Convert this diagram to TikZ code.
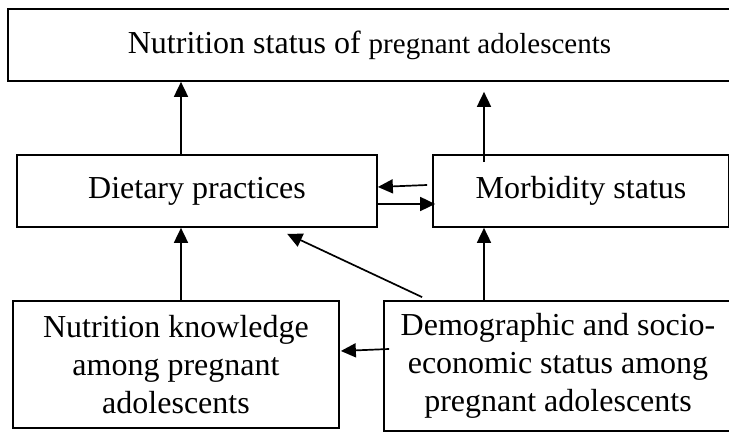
\documentclass[tikz,border=0pt]{standalone}
\usepackage{fontspec}
\setmainfont{Liberation Serif}
\usepackage{tikz}
\usetikzlibrary{arrows.meta, positioning, calc}

\begin{document}
\begin{tikzpicture}[
    x=0.5pt, y=-0.5pt,
    box/.style={draw, line width=0.85pt, inner sep=0pt,
                align=center, font=\fontsize{16}{19}\selectfont},
    arr/.style={-{Triangle[length=7.5pt, width=7pt]}, line width=0.85pt}
  ]
  \useasboundingbox (0,0) rectangle (729,432);
  \clip (0,0) rectangle (729,432);

  % outcome
  \node[box, minimum width=361.5pt, minimum height=36pt]
    (top) at (369.5, 45)
    {Nutrition status of {\fontsize{14.5}{17}\selectfont pregnant adolescents}};

  % middle row
  \node[box, minimum width=180pt, minimum height=36pt]
    (diet) at (197, 191) {Dietary practices};
  \node[box, minimum width=148pt, minimum height=36pt]
    (morb) at (581, 191) {Morbidity status};

  % bottom row
  \node[box, minimum width=163pt, minimum height=63.5pt]
    (know) at (176, 364.5)
    {Nutrition knowledge\\ among pregnant\\ adolescents};
  \node[box, minimum width=174pt, minimum height=65pt]
    (demo) at (558, 366)
    {Demographic and socio-\\ economic status among\\ pregnant adolescents};

  % arrow columns
  \coordinate (lcol) at (181, 0);
  \coordinate (rcol) at (484, 0);

  % links to outcome
  \draw[arr] (lcol |- diet.north) -- (lcol |- top.south);
  \draw[arr] ($(rcol |- morb.north)+(0,8)$) -- ($(rcol |- top.south)+(0,10)$);

  % between diet and morbidity
  \draw[arr] ($(morb.west)+(-5,-6)$) -- ($(diet.east)+(0,-4)$);
  \draw[arr] ($(diet.east)+(0,13)$) -- ($(morb.west)+(3,13)$);

  % from bottom row
  \draw[arr] (lcol |- know.north) -- (lcol |- diet.south);
  \draw[arr] ($(demo.north west)+(39,-3)$) -- ($(diet.south west)+(271,6)$);
  \draw[arr] (rcol |- demo.north) -- (rcol |- morb.south);
  \draw[arr] ($(demo.west)+(6,-17)$) -- ($(know.east)+(1,-13.5)$);
\end{tikzpicture}
\end{document}
